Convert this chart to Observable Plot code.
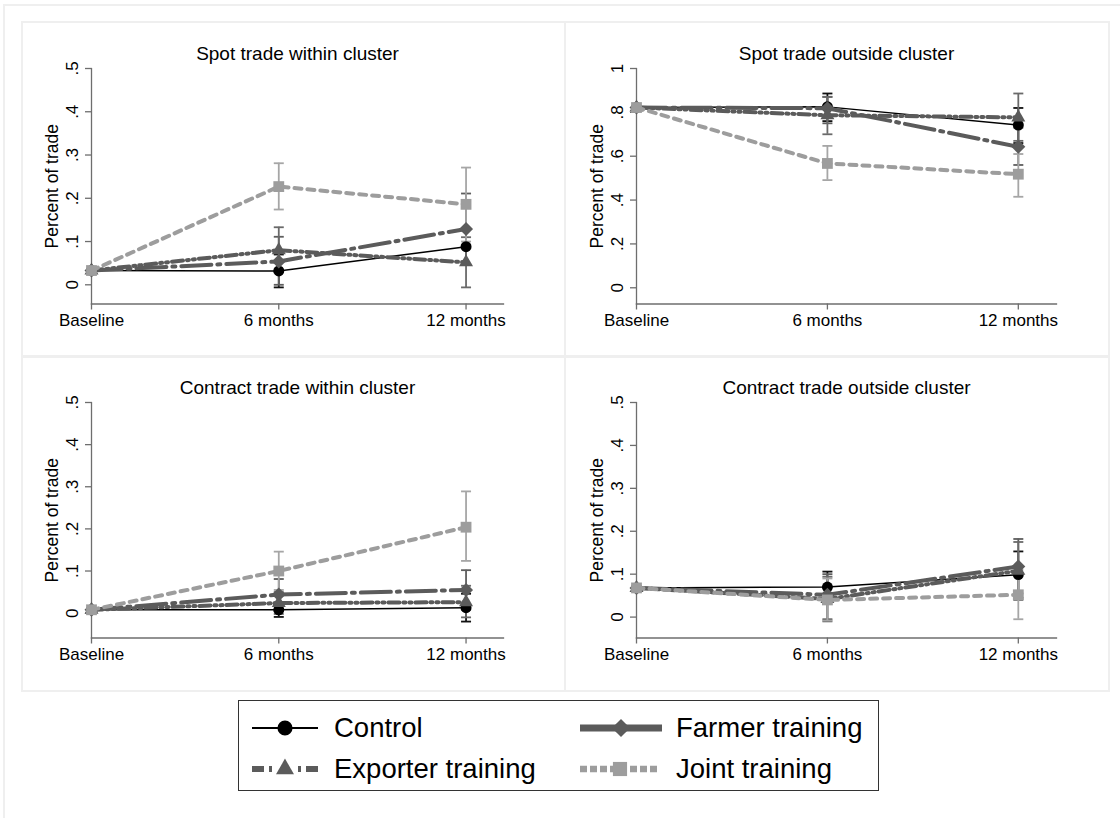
<!DOCTYPE html>
<html><head><meta charset="utf-8">
<script src="https://cdn.jsdelivr.net/npm/d3@7"></script>
<script src="https://cdn.jsdelivr.net/npm/@observablehq/plot@0.6"></script>
<style>
body{margin:0;background:#fff;font-family:"Liberation Sans",Arial,Helvetica,sans-serif;overflow:hidden;}
#outer{position:absolute;left:3px;top:4px;width:1200px;height:900px;border:2px solid #efefef;}
.panel{position:absolute;border:2px solid #efefef;box-sizing:border-box;}
.chart{position:absolute;}
#legend{position:absolute;left:238px;top:700px;width:641px;height:91px;border:1.5px solid #333;box-sizing:border-box;background:#fff}
.item{position:absolute;height:30px;display:flex;align-items:center;font-size:27.5px;color:#000;white-space:nowrap}
.item svg{display:block}
</style></head><body>
<div id="outer"></div>
<div id="panels"></div>
<div id="legend"></div>
<script>
// ---------------- data ----------------
const months = [0, 6, 12];
const periodLabels = ["Baseline", "6 months", "12 months"];
const groups = ["Control", "Farmer training", "Exporter training", "Joint training"];
const panelTitles = ["Spot trade within cluster", "Spot trade outside cluster",
                     "Contract trade within cluster", "Contract trade outside cluster"];
const yAxisTitle = "Percent of trade";
const smallTicks = [0, 0.1, 0.2, 0.3, 0.4, 0.5];
const smallTickLabels = ["0", ".1", ".2", ".3", ".4", ".5"];
const largeTicks = [0, 0.2, 0.4, 0.6, 0.8, 1];
const largeTickLabels = ["0", ".2", ".4", ".6", ".8", "1"];

// rows follow `groups`, columns follow `months`
const spotWithinMean  = [[0.033, 0.032, 0.088], [0.033, 0.054, 0.129], [0.033, 0.080, 0.052], [0.033, 0.227, 0.186]];
const spotWithinLow   = [[null, -0.006, 0.046], [null, 0.000, 0.048], [null, 0.030, -0.006], [null, 0.174, 0.100]];
const spotWithinHigh  = [[null, 0.070, 0.130], [null, 0.111, 0.211], [null, 0.133, 0.110], [null, 0.281, 0.271]];

const spotOutsideMean = [[0.822, 0.825, 0.742], [0.822, 0.819, 0.643], [0.822, 0.787, 0.777], [0.822, 0.567, 0.518]];
const spotOutsideLow  = [[null, 0.760, 0.660], [null, 0.750, 0.560], [null, 0.700, 0.670], [null, 0.491, 0.415]];
const spotOutsideHigh = [[null, 0.886, 0.820], [null, 0.871, 0.730], [null, 0.870, 0.886], [null, 0.647, 0.610]];

const contractWithinMean = [[0.008, 0.008, 0.013], [0.008, 0.044, 0.055], [0.008, 0.024, 0.026], [0.008, 0.100, 0.204]];
const contractWithinLow  = [[null, -0.009, -0.020], [null, 0.005, 0.008], [null, -0.002, -0.010], [null, 0.055, 0.124]];
const contractWithinHigh = [[null, 0.025, 0.046], [null, 0.081, 0.102], [null, 0.050, 0.065], [null, 0.146, 0.289]];

const contractOutsideMean = [[0.068, 0.070, 0.099], [0.068, 0.052, 0.118], [0.068, 0.042, 0.108], [0.068, 0.040, 0.052]];
const contractOutsideLow  = [[null, 0.035, 0.045], [null, -0.005, 0.055], [null, -0.010, 0.040], [null, -0.008, -0.005]];
const contractOutsideHigh = [[null, 0.106, 0.153], [null, 0.100, 0.182], [null, 0.094, 0.175], [null, 0.090, 0.110]];

const panelMeans = [spotWithinMean, spotOutsideMean, contractWithinMean, contractOutsideMean];
const panelLows  = [spotWithinLow, spotOutsideLow, contractWithinLow, contractOutsideLow];
const panelHighs = [spotWithinHigh, spotOutsideHigh, contractWithinHigh, contractOutsideHigh];
const panelYMin  = [-0.0444, -0.074, -0.059, -0.0487];
const panelYMax  = [0.5, 1, 0.5, 0.5];
const panelTicks = [smallTicks, largeTicks, smallTicks, smallTicks];
const panelTickLabels = [smallTickLabels, largeTickLabels, smallTickLabels, smallTickLabels];
const xMax = 13.2;

// ---------------- styles ----------------
const axisColor = "#6e6e6e";
const style = {
  "Control":           {color: "#000000", ci: "#111111", width: 1.5, dash: null,           symbol: "circle",   r: 5.5, lw: 2.2, ldash: null,                 lsize: 180},
  "Farmer training":   {color: "#5b5b5b", ci: "#5e5e5e", width: 4,   dash: "30,6,3,6",     symbol: "diamond2", r: 6.3, lw: 7,   ldash: null,                 lsize: 210},
  "Exporter training": {color: "#5b5b5b", ci: "#6a6a6a", width: 4,   dash: "11,4,2,4,2,4", symbol: "triangle", r: 5.2, lw: 6,   ldash: "12,5,3,26,3,5,12",   lsize: 140},
  "Joint training":    {color: "#9d9d9d", ci: "#a6a6a6", width: 4,   dash: "7,6",          symbol: "square",   r: 6.1, lw: 6.5, ldash: "7,3",                lsize: 200}
};
const capSymbol = {draw(ctx, size) { const r = Math.sqrt(size / Math.PI); ctx.moveTo(-r, 0); ctx.lineTo(r, 0); }};

const layout = [
  {left: 22,  top: 22,  width: 542, ml: 69, mr: 61},
  {left: 565, top: 22,  width: 543, ml: 71, mr: 52},
  {left: 22,  top: 356, width: 542, ml: 69, mr: 61},
  {left: 565, top: 356, width: 543, ml: 71, mr: 52}
];
const boxes = [
  {left: 21, top: 21, width: 545, height: 337},
  {left: 564, top: 21, width: 546, height: 337},
  {left: 21, top: 355, width: 545, height: 337},
  {left: 564, top: 355, width: 546, height: 337}
];

const panelsDiv = document.getElementById("panels");

for (let p = 0; p < 4; p++) {
  const rows = [];
  groups.forEach((g, gi) => {
    months.forEach((m, mi) => {
      rows.push({g, m, v: panelMeans[p][gi][mi], lo: panelLows[p][gi][mi], hi: panelHighs[p][gi][mi]});
    });
  });
  const ci = rows.filter(d => d.lo != null && d.hi != null);
  const ticks = panelTicks[p], tlabels = panelTickLabels[p];
  const L = layout[p];

  const marks = [
    Plot.frame({anchor: "left", stroke: axisColor, strokeWidth: 1.3}),
    Plot.frame({anchor: "bottom", stroke: axisColor, strokeWidth: 1.3}),
    Plot.axisX({ticks: months, tickFormat: d => periodLabels[months.indexOf(d)], tickSize: 6, tickPadding: 4,
                fontSize: 17, stroke: axisColor, fill: "#000", strokeWidth: 1.3, label: null}),
    Plot.axisY({ticks: ticks, tickFormat: () => "", tickSize: 6, stroke: axisColor, strokeWidth: 1.3, label: null}),
    Plot.text(ticks, {y: d => d, text: (d, i) => tlabels[i], frameAnchor: "left", dx: -19, rotate: -90,
                      textAnchor: "middle", lineAnchor: "middle", fontSize: 17, fill: "#000"}),
    Plot.text([yAxisTitle], {text: d => d, frameAnchor: "left", dx: -39, rotate: -90, textAnchor: "middle",
                             lineAnchor: "middle", fontSize: 17.5, fill: "#000"}),
    Plot.text([panelTitles[p]], {text: d => d, frameAnchor: "top", dy: -15, lineAnchor: "middle",
                                 textAnchor: "middle", fontSize: 19, fill: "#000"})
  ];
  // confidence intervals
  groups.forEach(g => {
    const s = style[g];
    const sub = ci.filter(d => d.g === g);
    marks.push(Plot.ruleX(sub, {x: "m", y1: "lo", y2: "hi", stroke: s.ci, strokeWidth: 1.8}));
    marks.push(Plot.dot(sub, {x: "m", y: "lo", symbol: capSymbol, r: 5, stroke: s.ci, strokeWidth: 1.8}));
    marks.push(Plot.dot(sub, {x: "m", y: "hi", symbol: capSymbol, r: 5, stroke: s.ci, strokeWidth: 1.8}));
  });
  // lines and markers
  groups.forEach(g => {
    const s = style[g];
    const sub = rows.filter(d => d.g === g);
    const lineOpts = {x: "m", y: "v", stroke: s.color, strokeWidth: s.width};
    if (s.dash) lineOpts.strokeDasharray = s.dash;
    marks.push(Plot.line(sub, lineOpts));
    marks.push(Plot.dot(sub, {x: "m", y: "v", symbol: s.symbol, r: s.r, fill: s.color, stroke: "none"}));
  });

  const chart = Plot.plot({
    width: L.width, height: 334,
    marginLeft: L.ml, marginRight: L.mr, marginTop: 46, marginBottom: 52.5,
    style: {background: "transparent", fontFamily: "'Liberation Sans', Arial, sans-serif", overflow: "visible"},
    x: {type: "linear", domain: [0, xMax]},
    y: {type: "linear", domain: [panelYMin[p], panelYMax[p]]},
    marks
  });

  const box = document.createElement("div");
  box.className = "panel";
  const B = boxes[p];
  Object.assign(box.style, {left: B.left + "px", top: B.top + "px", width: B.width + "px", height: B.height + "px"});
  panelsDiv.appendChild(box);

  const wrap = document.createElement("div");
  wrap.className = "chart";
  wrap.style.left = L.left + "px";
  wrap.style.top = L.top + "px";
  wrap.appendChild(chart);
  panelsDiv.appendChild(wrap);
}

// ---------------- legend ----------------
const legend = document.getElementById("legend");
const legendPos = [
  {x: 13, y: 12, sw: 66, gap: 16},
  {x: 341, y: 12, sw: 82, gap: 14},
  {x: 13, y: 53, sw: 66, gap: 16},
  {x: 341, y: 53, sw: 80, gap: 16}
];
groups.forEach((g, i) => {
  const s = style[g];
  const P = legendPos[i];
  const item = document.createElement("div");
  item.className = "item";
  item.style.left = P.x + "px";
  item.style.top = P.y + "px";
  const svg = d3.create("svg").attr("width", P.sw).attr("height", 30);
  const line = svg.append("line").attr("x1", 0).attr("x2", P.sw).attr("y1", 15).attr("y2", 15)
    .attr("stroke", s.color).attr("stroke-width", s.lw);
  if (s.ldash) line.attr("stroke-dasharray", s.ldash);
  const symType = {circle: d3.symbolCircle, diamond2: d3.symbolDiamond2, triangle: d3.symbolTriangle, square: d3.symbolSquare}[s.symbol];
  svg.append("path").attr("transform", `translate(${P.sw / 2},15)`)
    .attr("d", d3.symbol(symType, s.lsize)()).attr("fill", s.color);
  item.appendChild(svg.node());
  const label = document.createElement("span");
  label.textContent = g;
  label.style.marginLeft = P.gap + "px";
  item.appendChild(label);
  legend.appendChild(item);
});
</script></body></html>
